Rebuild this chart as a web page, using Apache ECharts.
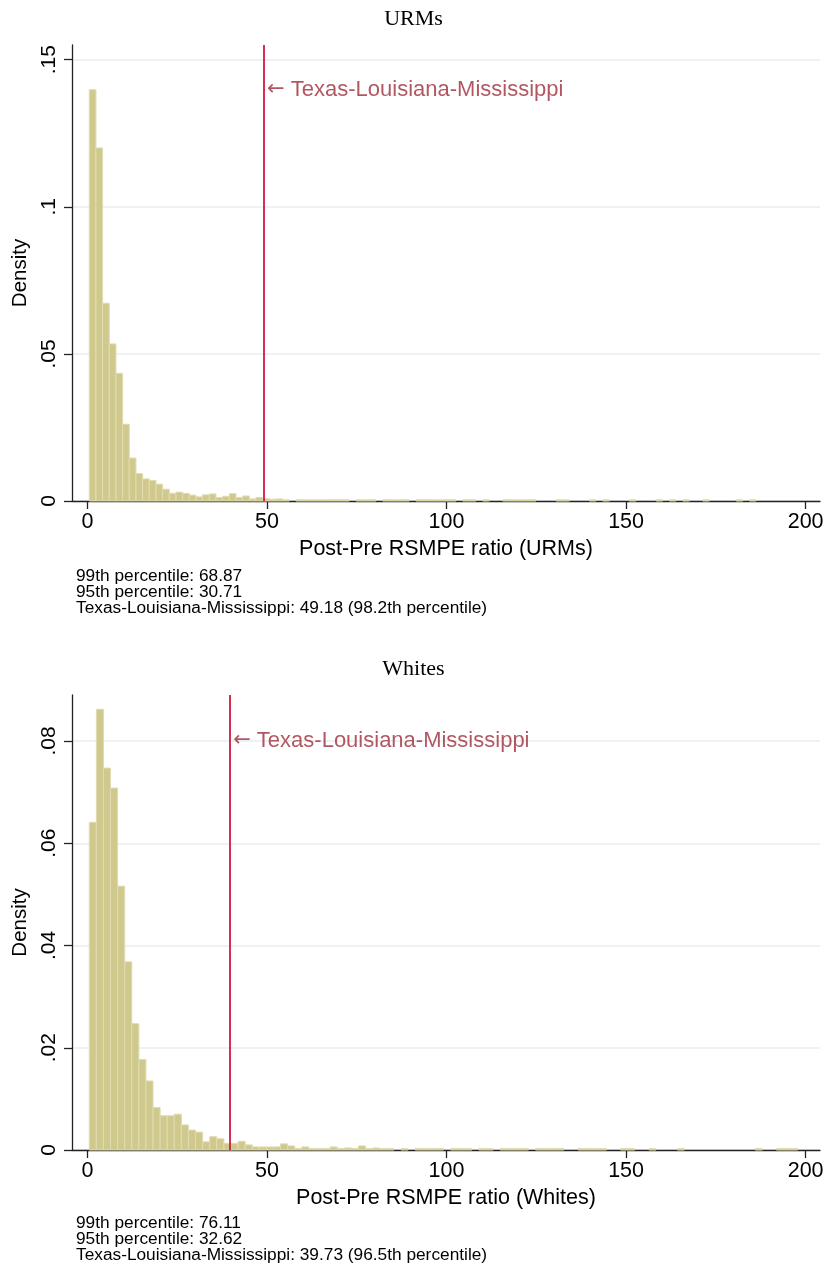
<!DOCTYPE html>
<html>
<head>
<meta charset="utf-8">
<script src="https://cdn.jsdelivr.net/npm/echarts@6/dist/echarts.min.js"></script>
<style>
  html, body { margin: 0; padding: 0; background: #fff; }
  #chart { width: 827px; height: 1272px; }
</style>
</head>
<body>
<div id="chart"></div>
<script>
// Histogram densities of the post/pre RMSPE ratio (100 equal-width bins each)
const urmBinStart = 0.5;
const urmBinWidth = 1.857;
const urmDensity = [
  0.1398, 0.1200, 0.0672, 0.0534, 0.0434, 0.0261, 0.0146, 0.0093, 0.0075, 0.0070,
  0.0057, 0.0040, 0.0026, 0.0030, 0.0026, 0.0020, 0.0014, 0.0021, 0.0024, 0.0012,
  0.0016, 0.0025, 0.0012, 0.0017, 0.0007, 0.0012, 0.0008, 0.0006, 0.0007, 0.0004,
  0.0000, 0.0004, 0.0004, 0.0004, 0.0004, 0.0004, 0.0004, 0.0004, 0.0004, 0.0000,
  0.0004, 0.0004, 0.0004, 0.0000, 0.0004, 0.0004, 0.0004, 0.0004, 0.0000, 0.0004,
  0.0004, 0.0004, 0.0004, 0.0004, 0.0004, 0.0000, 0.0004, 0.0004, 0.0000, 0.0004,
  0.0000, 0.0000, 0.0004, 0.0004, 0.0004, 0.0004, 0.0004, 0.0000, 0.0000, 0.0000,
  0.0004, 0.0004, 0.0000, 0.0000, 0.0000, 0.0004, 0.0000, 0.0004, 0.0000, 0.0000,
  0.0000, 0.0004, 0.0000, 0.0000, 0.0000, 0.0004, 0.0000, 0.0004, 0.0000, 0.0004,
  0.0000, 0.0000, 0.0004, 0.0000, 0.0000, 0.0000, 0.0000, 0.0004, 0.0000, 0.0004
];

const whiteBinStart = 0.5;
const whiteBinWidth = 1.973;
const whiteDensity = [
  0.0641, 0.0862, 0.0747, 0.0708, 0.0516, 0.0368, 0.0247, 0.0177, 0.0135, 0.0083,
  0.0067, 0.0067, 0.0070, 0.0049, 0.0039, 0.0035, 0.0016, 0.0026, 0.0022, 0.0013,
  0.0013, 0.0017, 0.0010, 0.0006, 0.0006, 0.0006, 0.0006, 0.0012, 0.0008, 0.0003,
  0.0006, 0.0003, 0.0003, 0.0003, 0.0006, 0.0003, 0.0004, 0.0003, 0.0008, 0.0003,
  0.0004, 0.0003, 0.0003, 0.0000, 0.0003, 0.0000, 0.0003, 0.0003, 0.0003, 0.0003,
  0.0000, 0.0003, 0.0003, 0.0003, 0.0000, 0.0003, 0.0003, 0.0000, 0.0003, 0.0003,
  0.0003, 0.0003, 0.0000, 0.0003, 0.0003, 0.0003, 0.0003, 0.0000, 0.0000, 0.0003,
  0.0003, 0.0003, 0.0003, 0.0000, 0.0000, 0.0003, 0.0003, 0.0000, 0.0000, 0.0003,
  0.0000, 0.0000, 0.0000, 0.0003, 0.0000, 0.0000, 0.0000, 0.0000, 0.0000, 0.0000,
  0.0000, 0.0000, 0.0000, 0.0000, 0.0003, 0.0000, 0.0000, 0.0003, 0.0003, 0.0003
];

// Texas-Louisiana-Mississippi ratio in each panel
const urmMarker = 49.18;
const whiteMarker = 39.73;
const markerName = 'Texas-Louisiana-Mississippi';

// Tick values and panel titles
const xTicks = [0, 50, 100, 150, 200];
const urmYTicks = [0, 0.05, 0.1, 0.15];
const whiteYTicks = [0, 0.02, 0.04, 0.06, 0.08];
const panelTitles = ['URMs', 'Whites'];
const axisTitles = ['Post-Pre RSMPE ratio (URMs)', 'Post-Pre RSMPE ratio (Whites)'];
const urmNotes = ['99th percentile: 68.87', '95th percentile: 30.71',
  'Texas-Louisiana-Mississippi: 49.18 (98.2th percentile)'];
const whiteNotes = ['99th percentile: 76.11', '95th percentile: 32.62',
  'Texas-Louisiana-Mississippi: 39.73 (96.5th percentile)'];

const SANS = 'Liberation Sans, Arial, Helvetica, sans-serif';
const SERIF = 'Liberation Serif, DejaVu Serif, serif';
const BAR_FILL = '#d0c98d';
const BAR_EDGE = '#e0dbb0';
const LINE_RED = '#d3173f';
const TEXT_RED = '#9e2d3a';
const AXIS_COLOR = '#222';

function binRows(start, width, values) {
  return values.map((v, i) => [start + i * width, start + (i + 1) * width, v]);
}

function renderBin(params, api) {
  const h = api.value(2);
  if (!h) return null;
  const p0 = api.coord([api.value(0), h]);
  const p1 = api.coord([api.value(1), 0]);
  return {
    type: 'rect',
    shape: { x: p0[0], y: p0[1], width: p1[0] - p0[0], height: p1[1] - p0[1] },
    style: { fill: BAR_FILL, stroke: BAR_EDGE, lineWidth: 1 }
  };
}

function stripZero(v) {
  return v === 0 ? '0' : String(+v.toFixed(3)).replace(/^0/, '');
}

function xAxisFor(gridIndex, title) {
  return {
    type: 'value', gridIndex, min: -4.31, max: 204,
    name: title, nameLocation: 'middle', nameGap: 37,
    nameTextStyle: { fontFamily: SANS, fontSize: 21.5, color: '#000' },
    axisLine: { onZero: false, lineStyle: { color: AXIS_COLOR, width: 1.3 } },
    axisTick: { length: 8, customValues: xTicks, lineStyle: { color: AXIS_COLOR, width: 1.3 } },
    axisLabel: { customValues: xTicks, margin: 10, fontFamily: SANS, fontSize: 21.5, color: '#000' },
    splitLine: { show: false }
  };
}

function yAxisFor(gridIndex, max, ticks) {
  return {
    type: 'value', gridIndex, min: 0, max,
    name: 'Density', nameLocation: 'middle', nameGap: 38, nameRotate: 90,
    nameTextStyle: { fontFamily: SANS, fontSize: 20.5, color: '#000' },
    axisLine: { show: true, onZero: false, lineStyle: { color: AXIS_COLOR, width: 1.3 } },
    axisTick: { show: true, length: 8, customValues: ticks, lineStyle: { color: AXIS_COLOR, width: 1.3 } },
    axisLabel: { customValues: ticks, rotate: 90, margin: 12, fontFamily: SANS, fontSize: 21, color: '#000',
      formatter: stripZero },
    splitLine: { show: true, lineStyle: { color: '#e8eef1', width: 1.5 } }
  };
}

function markerSeries(idx, x, y) {
  return {
    type: 'scatter', xAxisIndex: idx, yAxisIndex: idx, z: 5,
    data: [[x, y]], symbolSize: 0, silent: true,
    label: {
      show: true, position: 'right', distance: 3,
      formatter: '{a|\u2190} ' + markerName,
      fontFamily: SANS, fontSize: 22, color: TEXT_RED,
      rich: { a: { fontFamily: 'DejaVu Sans, sans-serif', fontSize: 21, color: TEXT_RED } }
    },
    markLine: {
      silent: true, symbol: 'none', label: { show: false },
      lineStyle: { color: LINE_RED, width: 1.8, type: 'solid' },
      data: [{ xAxis: x }]
    }
  };
}

function notesText(top, lines) {
  return {
    type: 'text', x: 76, y: top, scaleX: 1.08,
    style: { text: lines.join('\n'), font: '16px ' + SANS, lineHeight: 16, fill: '#000' }
  };
}

const chart = echarts.init(document.getElementById('chart'), null, { renderer: 'canvas' });
chart.setOption({
  animation: false,
  backgroundColor: '#fff',
  title: [
    { text: panelTitles[0], left: 'center', top: 3,
      textStyle: { fontFamily: SERIF, fontSize: 22, fontWeight: 'normal', color: '#000' } },
    { text: panelTitles[1], left: 'center', top: 653,
      textStyle: { fontFamily: SERIF, fontSize: 22, fontWeight: 'normal', color: '#000' } }
  ],
  grid: [
    { left: 72, top: 45, width: 748, height: 456 },
    { left: 72, top: 695, width: 748, height: 455 }
  ],
  xAxis: [xAxisFor(0, axisTitles[0]), xAxisFor(1, axisTitles[1])],
  yAxis: [yAxisFor(0, 0.155, urmYTicks), yAxisFor(1, 0.089, whiteYTicks)],
  series: [
    { type: 'custom', xAxisIndex: 0, yAxisIndex: 0, renderItem: renderBin,
      encode: { x: [0, 1], y: 2 }, data: binRows(urmBinStart, urmBinWidth, urmDensity) },
    { type: 'custom', xAxisIndex: 1, yAxisIndex: 1, renderItem: renderBin,
      encode: { x: [0, 1], y: 2 }, data: binRows(whiteBinStart, whiteBinWidth, whiteDensity) },
    markerSeries(0, urmMarker, 0.1398),
    markerSeries(1, whiteMarker, 0.08)
  ],
  graphic: [
    notesText(569, urmNotes),
    notesText(1216, whiteNotes)
  ]
});
</script>
</body>
</html>
